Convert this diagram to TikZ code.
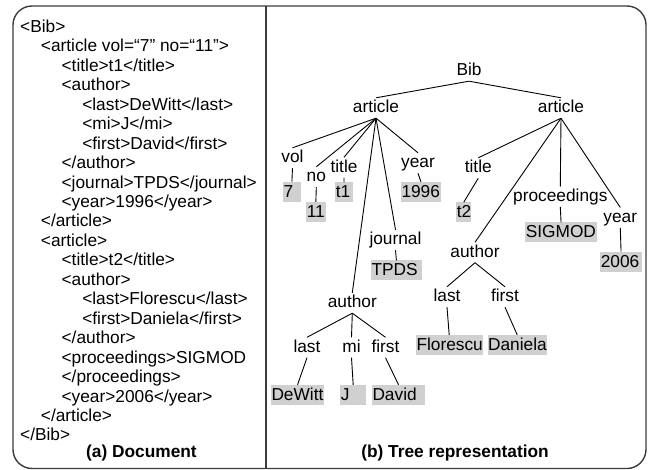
\documentclass[tikz,border=0pt]{standalone}
\usepackage{fontspec}
\setmainfont{Liberation Sans}
\definecolor{valgray}{RGB}{208,208,208}
\definecolor{framegray}{RGB}{60,60,60}
\newcommand{\codeln}[4]{\node[codetxt] (#1) at ({20+20.7*#2},{32.5+19.45*#3}) {#4};}
\begin{document}
\begin{tikzpicture}[x=1pt,y=-1pt,
  every node/.style={font=\fontsize{17.3}{20.4}\selectfont},
  codetxt/.style={anchor=base west,inner sep=0pt},
  captxt/.style={anchor=base,inner sep=0pt,font=\fontsize{17.3}{20.4}\selectfont\bfseries},
  keynode/.style={anchor=base,text height=13.5pt,text depth=3.5pt,inner sep=1.5pt},
  valbox/.style={anchor=west,fill=valgray,text height=13.5pt,text depth=2.5pt,
    inner xsep=0.6pt,inner ysep=2pt,align=left,text width=#1},
  conn/.style={draw=black,line width=0.9pt},
  outerframe/.style={draw=framegray,line width=1.4pt}]
\useasboundingbox (0,0) rectangle (649,470);
% frame
\draw[outerframe,rounded corners=19pt] (13,6) rectangle (646,468.5);
\coordinate (divtop) at (266,6);
\coordinate (divbot) at (266,468.5);
\draw[outerframe] (divtop) -- (divbot);
% document
\codeln{c0}{0}{0}{<Bib>}
\codeln{c1}{1}{1}{<article vol=“7” no=“11”>}
\codeln{c2}{2}{2}{<title>t1</title>}
\codeln{c3}{2}{3}{<author>}
\codeln{c4}{3}{4}{<last>DeWitt</last>}
\codeln{c5}{3}{5}{<mi>J</mi>}
\codeln{c6}{3}{6}{<first>David</first>}
\codeln{c7}{2}{7}{</author>}
\codeln{c8}{2}{8}{<journal>TPDS</journal>}
\codeln{c9}{2}{9}{<year>1996</year>}
\codeln{c10}{1}{10}{</article>}
\codeln{c11}{1}{11}{<article>}
\codeln{c12}{2}{12}{<title>t2</title>}
\codeln{c13}{2}{13}{<author>}
\codeln{c14}{3}{14}{<last>Florescu</last>}
\codeln{c15}{3}{15}{<first>Daniela</first>}
\codeln{c16}{2}{16}{</author>}
\codeln{c17}{2}{17}{<proceedings>SIGMOD}
\codeln{c18}{2}{18}{</proceedings>}
\codeln{c19}{2}{19}{<year>2006</year>}
\codeln{c20}{1}{20}{</article>}
\codeln{c21}{0}{21}{</Bib>}
\node[captxt] (capa) at (141.5,458) {(a) Document};
\node[captxt] (capb) at (455,458) {(b) Tree representation};
% tree keys
\node[keynode] (bib) at (469,76) {Bib};
\node[keynode] (artL) at (376,113) {article};
\node[keynode] (artR) at (561,113) {article};
\node[keynode] (vol) at (292.5,163) {vol};
\node[keynode] (no) at (316.3,182) {no};
\node[keynode] (titleL) at (344,172.5) {title};
\node[keynode] (yearL) at (418,168) {year};
\node[keynode] (journal) at (395.5,245) {journal};
\node[keynode] (authL) at (352.3,308) {author};
\node[keynode] (lastL) at (307,352.5) {last};
\node[keynode] (mi) at (351.5,352.5) {mi};
\node[keynode] (firstL) at (385.5,352.5) {first};
\node[keynode] (titleR) at (478.3,173) {title};
\node[keynode] (proc) at (560.3,201.7) {proceedings};
\node[keynode] (yearR) at (620.3,222.7) {year};
\node[keynode] (authR) at (475,257.5) {author};
\node[keynode] (lastR) at (447,302) {last};
\node[keynode] (firstR) at (505,302) {first};
% values
\node[valbox=16.8pt] (v7) at (282.7,191.8) {7};
\node[valbox=18.1pt] (v11) at (306,212) {11};
\node[valbox=16.5pt] (vt1) at (335,192.3) {t1};
\node[valbox=38.8pt] (v1996) at (400.7,192) {1996};
\node[valbox=49.8pt] (vtpds) at (370.7,270.5) {TPDS};
\node[valbox=13.8pt] (vt2) at (456,212.5) {t2};
\node[valbox=70.5pt] (vsig) at (525,232.5) {SIGMOD};
\node[valbox=40.5pt] (v2006) at (600,261.7) {2006};
\node[valbox=65.4pt] (vflo) at (415.7,345) {Florescu};
\node[valbox=58.2pt] (vdan) at (487.3,345) {Daniela};
\node[valbox=52.1pt] (vdew) at (270.7,395) {DeWitt};
\node[valbox=24.8pt] (vj) at (340,395) {J};
\node[valbox=52.1pt] (vdav) at (371.7,395) {David};
% edges
\draw[conn] (bib.south) -- (artL.north);
\draw[conn] (bib.south) -- (artR.north);
\foreach \c in {vol,no,titleL,yearL,journal,authL}
  \draw[conn] (artL.south) -- (\c.north);
\foreach \c in {titleR,proc,yearR,authR}
  \draw[conn] (artR.south) -- (\c.north);
\foreach \c in {lastL,mi,firstL}
  \draw[conn] (authL.south) -- (\c.north);
\foreach \c in {lastR,firstR}
  \draw[conn] (authR.south) -- (\c.north);
\draw[conn] (vol.south) -- (v7.north);
\draw[conn] (no.south) -- (v11.north);
\draw[conn] (titleL.south) -- (vt1.north);
\draw[conn] (yearL.south) -- (v1996.north);
\draw[conn] (journal.south) -- (vtpds.north);
\draw[conn] (titleR.south) -- (vt2.north);
\draw[conn] (proc.south) -- (vsig.north);
\draw[conn] (yearR.south) -- (v2006.north);
\draw[conn] (lastR.south) -- (vflo.north);
\draw[conn] (firstR.south) -- (vdan.north);
\draw[conn] (lastL.south) -- (vdew.north);
\draw[conn] (mi.south) -- (vj.north);
\draw[conn] (firstL.south) -- (vdav.north);
\end{tikzpicture}
\end{document}
